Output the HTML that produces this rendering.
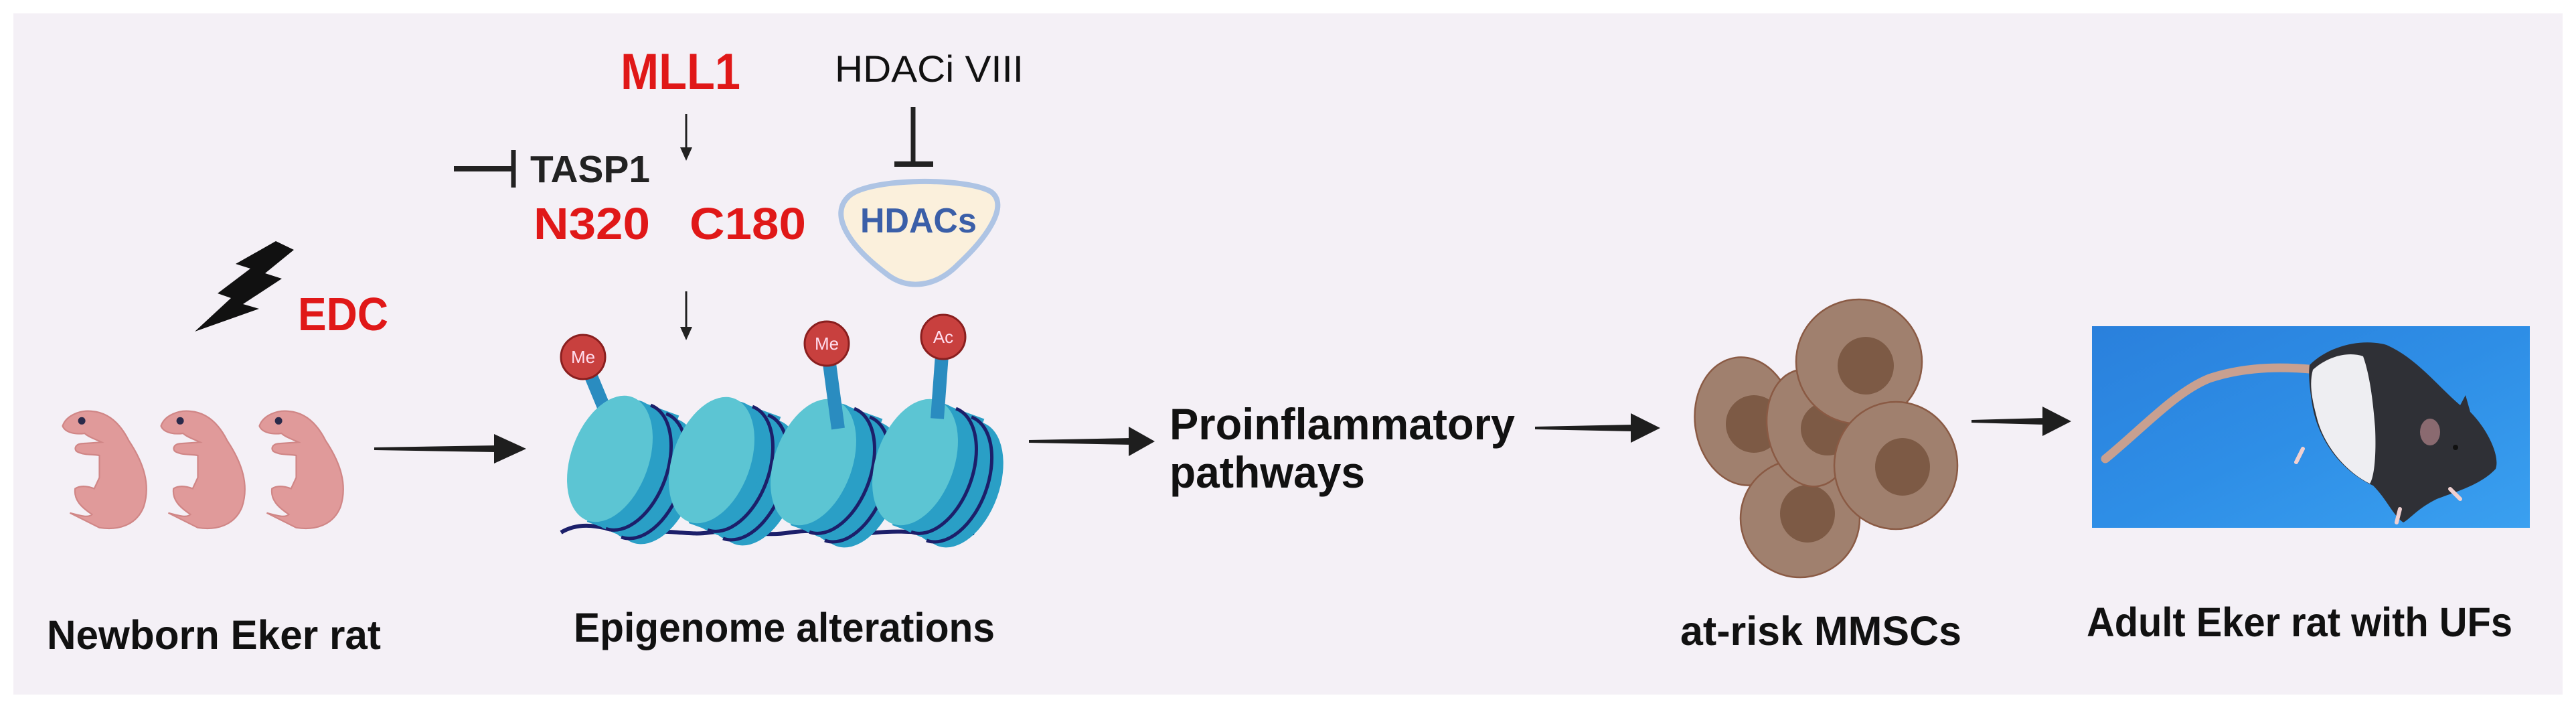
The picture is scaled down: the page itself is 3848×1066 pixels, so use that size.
<!DOCTYPE html>
<html><head><meta charset="utf-8"><style>
html,body{margin:0;padding:0;background:#fff;}
svg{display:block;}
text{font-family:"Liberation Sans",Arial,sans-serif;}
</style></head><body>
<svg width="3848" height="1066" viewBox="0 0 3848 1066" xmlns="http://www.w3.org/2000/svg">
<defs>
<linearGradient id="blue" x1="0" y1="0" x2="1" y2="1">
<stop offset="0" stop-color="#2a80dc"/><stop offset="0.5" stop-color="#2e8ee6"/><stop offset="1" stop-color="#3aa0f0"/></linearGradient>
<g id="nuc">
<g transform="rotate(20)">
<ellipse cx="75" cy="8" rx="58" ry="98" fill="#2a9fc6"/>
<ellipse cx="60" cy="6" rx="58" ry="98" fill="#2a9fc6"/>
<ellipse cx="45" cy="4" rx="58" ry="98" fill="#2a9fc6"/>
<ellipse cx="30" cy="3" rx="58" ry="98" fill="#2a9fc6"/>
<ellipse cx="15" cy="1" rx="58" ry="98" fill="#2a9fc6"/>
<rect x="0" y="-96" width="75" height="196" fill="#2a9fc6"/>
<ellipse cx="0" cy="0" rx="58" ry="98" fill="#5cc5d3"/>
<path d="M30,-96 A58,98 0 0 1 30,100" fill="none" stroke="#1c1f6a" stroke-width="5"/>
<path d="M56,-92 A58,98 0 0 1 56,104" fill="none" stroke="#1c1f6a" stroke-width="5"/>
</g></g>
<g id="pup">
<path d="M5,40 C10,25 30,18 45,20 C70,22 85,40 95,60 C115,90 125,120 115,150 C105,175 80,182 55,178 L15,158 C30,162 40,165 45,160 C30,150 20,140 22,125 C30,120 40,122 48,125 L55,110 L55,80 C45,78 35,80 25,75 C20,72 22,65 30,64 L58,62 C50,58 40,55 35,50 C20,52 8,48 5,40 Z" fill="#e09a9a" stroke="#d08686" stroke-width="2"/>
<circle cx="31" cy="33" r="5" fill="#2a2a4a"/>
</g>
</defs>
<rect x="0" y="0" width="3848" height="1066" fill="#fff"/>
<rect x="20" y="20" width="3808" height="1017" fill="#f4f0f6"/>

<text x="927" y="133" font-size="76" font-weight="bold" fill="#e01818" textLength="179" lengthAdjust="spacingAndGlyphs">MLL1</text>
<text x="1247" y="122" font-size="56" fill="#111" textLength="282" lengthAdjust="spacingAndGlyphs">HDACi VIII</text>
<text x="792" y="272" font-size="57" font-weight="bold" fill="#222" textLength="179" lengthAdjust="spacingAndGlyphs">TASP1</text>
<text x="797" y="357" font-size="67" font-weight="bold" fill="#e01818" textLength="174" lengthAdjust="spacingAndGlyphs">N320</text>
<text x="1030" y="357" font-size="67" font-weight="bold" fill="#e01818" textLength="174" lengthAdjust="spacingAndGlyphs">C180</text>
<line x1="678" y1="252" x2="767" y2="252" stroke="#222" stroke-width="8"/>
<line x1="767" y1="224" x2="767" y2="280" stroke="#222" stroke-width="7"/>
<line x1="1364" y1="160" x2="1364" y2="245" stroke="#222" stroke-width="7"/>
<line x1="1336" y1="245" x2="1394" y2="245" stroke="#222" stroke-width="8"/>
<path d="M1269,292 C1302,265 1443,265 1480,286 C1508,306 1475,354 1432,394 C1399,428 1356,435 1323,408 C1269,367 1237,320 1269,292Z" fill="#fbf0dc" stroke="#aec4e4" stroke-width="8"/>
<text x="1285" y="347" font-size="52" font-weight="bold" fill="#3b5fa8" textLength="174" lengthAdjust="spacingAndGlyphs">HDACs</text>
<line x1="1025" y1="170" x2="1025" y2="225" stroke="#222" stroke-width="3"/>
<polygon points="1016,220 1034,220 1025,240" fill="#222"/>
<line x1="1025" y1="435" x2="1025" y2="492" stroke="#222" stroke-width="3"/>
<polygon points="1016,488 1034,488 1025,508" fill="#222"/>
<polygon points="412,360 439,373 396,408 421,416 363,454 387,461 291,495 345,445 325,438 374,401 352,394" fill="#111"/>
<text x="445" y="493" font-size="70" font-weight="bold" fill="#e01818" textLength="135" lengthAdjust="spacingAndGlyphs">EDC</text>

<use href="#pup" transform="translate(88,592) scale(1.1)"/>
<use href="#pup" transform="translate(235,592) scale(1.1)"/>
<use href="#pup" transform="translate(382,592) scale(1.1)"/>

<g fill="#1e1e1e">
<polygon points="559,668 740,665 740,675 559,672"/><polygon points="738,648 786,670 738,692"/>
<polygon points="1537,657 1690,654 1690,664 1537,661"/><polygon points="1686,637 1725,659 1686,681"/>
<polygon points="2293,637 2440,634 2440,644 2293,641"/><polygon points="2436,617 2480,639 2436,661"/>
<polygon points="2945,627 3055,624 3055,634 2945,631"/><polygon points="3051,607 3094,629 3051,651"/>
</g>

<path d="M838,795 C880,770 920,800 960,795 C1000,790 1030,800 1060,795 C1100,790 1140,802 1180,795 C1230,788 1270,800 1310,795 C1360,790 1400,800 1455,796" fill="none" stroke="#1c1f6a" stroke-width="6"/>
<line x1="871" y1="533" x2="905" y2="615" stroke="#2a8cc0" stroke-width="20"/>
<use href="#nuc" x="911" y="685"/>
<use href="#nuc" x="1063" y="687"/>
<use href="#nuc" x="1215" y="690"/>
<use href="#nuc" x="1367" y="690"/>
<line x1="1235" y1="513" x2="1252" y2="640" stroke="#2a8cc0" stroke-width="20"/>
<line x1="1409" y1="503" x2="1400" y2="625" stroke="#2a8cc0" stroke-width="20"/>
<g font-size="26" text-anchor="middle">
<circle cx="871" cy="533" r="33" fill="#c8403e" stroke="#8a1f1f" stroke-width="3"/><text x="871" y="542" fill="#fde">Me</text>
<circle cx="1235" cy="513" r="33" fill="#c8403e" stroke="#8a1f1f" stroke-width="3"/><text x="1235" y="522" fill="#fde">Me</text>
<circle cx="1409" cy="503" r="33" fill="#c8403e" stroke="#8a1f1f" stroke-width="3"/><text x="1409" y="512" fill="#fde">Ac</text>
</g>

<text x="1747" y="656" font-size="66" font-weight="bold" fill="#111" textLength="516" lengthAdjust="spacingAndGlyphs">Proinflammatory</text>
<text x="1747" y="728" font-size="66" font-weight="bold" fill="#111" textLength="292" lengthAdjust="spacingAndGlyphs">pathways</text>

<g stroke="#8a5a44" stroke-width="2.5">
<ellipse cx="2606" cy="629" rx="74" ry="96" fill="#a0806e" transform="rotate(-8 2606 629)"/>
<ellipse cx="2620" cy="633" rx="42" ry="43" fill="#7d5a45" stroke="none"/>
<ellipse cx="2689" cy="774" rx="89" ry="88" fill="#a0806e"/>
<ellipse cx="2700" cy="767" rx="41" ry="43" fill="#7d5a45" stroke="none"/>
<ellipse cx="2702" cy="639" rx="62" ry="88" fill="#a0806e" transform="rotate(-10 2702 639)"/>
<ellipse cx="2730" cy="640" rx="40" ry="40" fill="#7d5a45" stroke="none"/>
<ellipse cx="2777" cy="540" rx="94" ry="93" fill="#a0806e"/>
<ellipse cx="2787" cy="546" rx="42" ry="43" fill="#7d5a45" stroke="none"/>
<ellipse cx="2832" cy="695" rx="92" ry="95" fill="#a0806e"/>
<ellipse cx="2842" cy="697" rx="41" ry="43" fill="#7d5a45" stroke="none"/>
</g>

<rect x="3125" y="487" width="654" height="301" fill="url(#blue)"/>
<path d="M3145,685 C3200,640 3250,585 3300,565 C3360,545 3420,548 3460,552" fill="none" stroke="#c8a090" stroke-width="13" stroke-linecap="round"/>
<path d="M3450,545 C3480,515 3530,505 3565,515 C3610,535 3640,575 3675,605 L3683,590 L3690,615 C3715,640 3735,680 3728,700 C3705,725 3665,735 3640,745 C3610,760 3600,775 3590,780 C3575,770 3565,745 3545,725 C3500,705 3465,660 3455,610 C3450,580 3448,560 3450,545Z" fill="#2f3036"/>
<path d="M3455,552 C3480,530 3510,525 3530,532 C3540,560 3545,600 3548,640 C3550,690 3545,715 3540,722 C3505,705 3470,665 3460,620 C3452,590 3450,570 3455,552Z" fill="#eeeef2"/>
<ellipse cx="3630" cy="645" rx="15" ry="20" fill="#8a6a70"/>
<circle cx="3668" cy="668" r="4" fill="#111"/>
<g stroke="#f0d0d0" stroke-width="6" stroke-linecap="round">
<line x1="3440" y1="670" x2="3430" y2="690"/><line x1="3585" y1="760" x2="3580" y2="780"/><line x1="3660" y1="730" x2="3675" y2="745"/>
</g>

<text x="70" y="969" font-size="61" font-weight="bold" fill="#111" textLength="499" lengthAdjust="spacingAndGlyphs">Newborn  Eker rat</text>
<text x="857" y="958" font-size="61" font-weight="bold" fill="#111" textLength="629" lengthAdjust="spacingAndGlyphs">Epigenome alterations</text>
<text x="2510" y="963" font-size="61" font-weight="bold" fill="#111" textLength="420" lengthAdjust="spacingAndGlyphs">at-risk MMSCs</text>
<text x="3117" y="950" font-size="61" font-weight="bold" fill="#111" textLength="636" lengthAdjust="spacingAndGlyphs">Adult Eker rat with UFs</text>
</svg>
</body></html>
